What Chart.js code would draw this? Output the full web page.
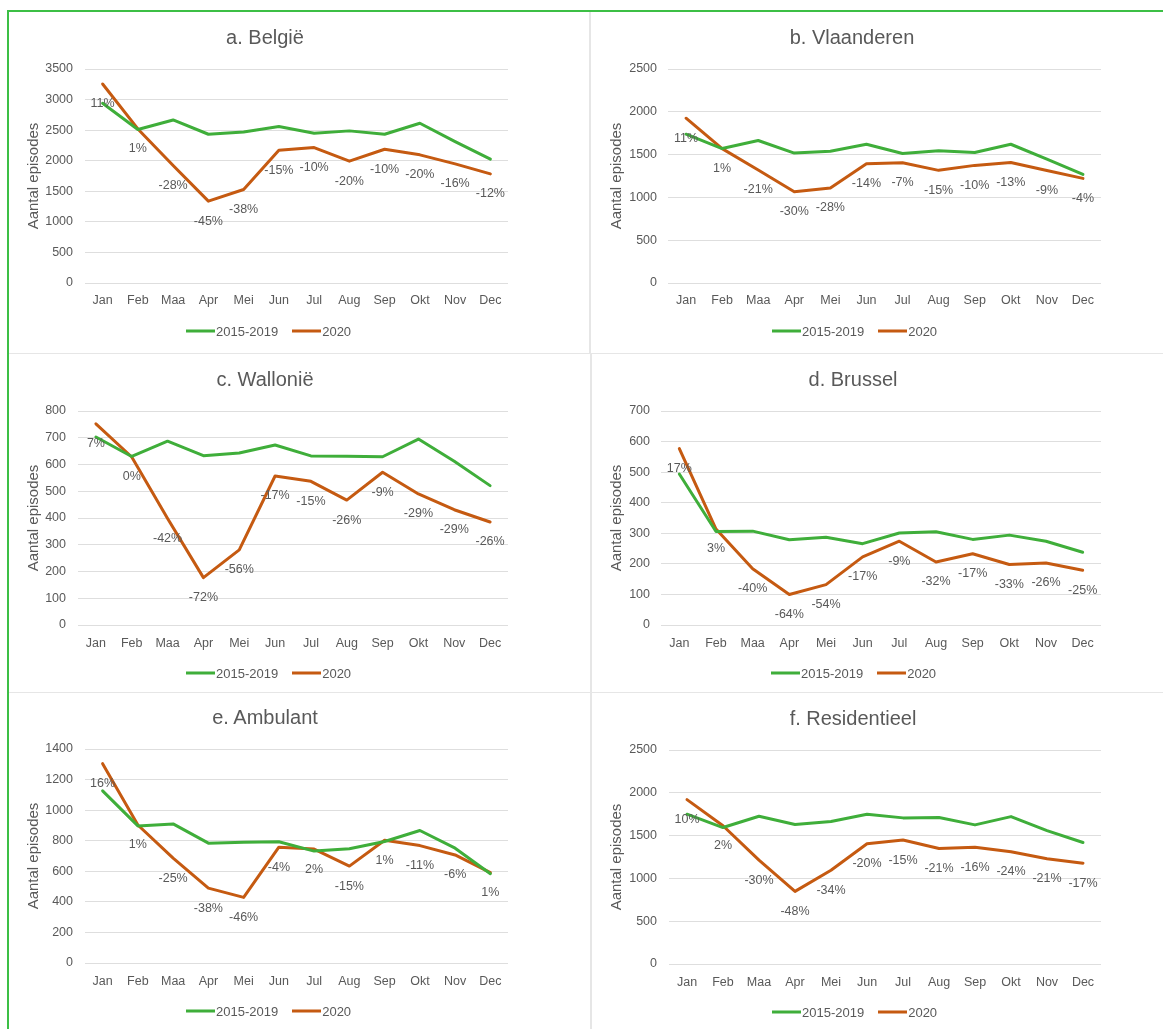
<!DOCTYPE html>
<html>
<head>
<meta charset="utf-8">
<script src="https://cdn.jsdelivr.net/npm/chart.js@4.4.0/dist/chart.umd.min.js"></script>
<style>
  body { margin: 0; background: #fff; font-family: "Liberation Sans", Arial, sans-serif; }
  #page { position: relative; width: 1163px; height: 1029px; overflow: hidden; }
  .panel { position: absolute; }
  .title { position: absolute; transform: translate(-50%, -50%); font-size: 20px; color: #595959; white-space: nowrap; line-height: 1; }
  .legend { position: absolute; display: flex; align-items: center; font-size: 13px; color: #595959; white-space: nowrap; transform: translateY(-50%); line-height: 1; }
  .legend .sw { display: inline-block; width: 29px; height: 3px; }
  .rule { position: absolute; }
</style>
</head>
<body>
<div id="page"></div>
<script>
// categories
const months = ['Jan', 'Feb', 'Maa', 'Apr', 'Mei', 'Jun', 'Jul', 'Aug', 'Sep', 'Okt', 'Nov', 'Dec'];
const seriesNames = ['2015-2019', '2020'];
const axisTitle = 'Aantal episodes';

// a. België
const belgieBase = [2940, 2510, 2667, 2433, 2471, 2558, 2449, 2488, 2433, 2613, 2313, 2025];
const belgie2020 = [3255, 2520, 1921, 1339, 1530, 2172, 2215, 1992, 2188, 2096, 1949, 1785];
const belgiePct = ['11%', '1%', '-28%', '-45%', '-38%', '-15%', '-10%', '-20%', '-10%', '-20%', '-16%', '-12%'];

// b. Vlaanderen
const vlaanderenBase = [1738, 1571, 1665, 1518, 1540, 1621, 1512, 1545, 1524, 1621, 1446, 1268];
const vlaanderen2020 = [1925, 1570, 1320, 1066, 1110, 1392, 1405, 1316, 1374, 1408, 1315, 1222];
const vlaanderenPct = ['11%', '1%', '-21%', '-30%', '-28%', '-14%', '-7%', '-15%', '-10%', '-13%', '-9%', '-4%'];

// c. Wallonië
const wallonieBase = [703, 630, 687, 633, 643, 673, 632, 631, 629, 695, 612, 521];
const wallonie2020 = [752, 628, 398, 177, 281, 557, 537, 467, 571, 490, 431, 385];
const walloniePct = ['7%', '0%', '-42%', '-72%', '-56%', '-17%', '-15%', '-26%', '-9%', '-29%', '-29%', '-26%'];

// d. Brussel
const brusselBase = [494, 306, 307, 279, 287, 266, 301, 305, 280, 294, 274, 238];
const brussel2020 = [577, 314, 184, 100, 132, 223, 274, 206, 233, 198, 203, 179];
const brusselPct = ['17%', '3%', '-40%', '-64%', '-54%', '-17%', '-9%', '-32%', '-17%', '-33%', '-26%', '-25%'];

// e. Ambulant
const ambulantBase = [1126, 897, 910, 784, 790, 793, 732, 747, 795, 867, 751, 584];
const ambulant2020 = [1304, 903, 686, 490, 429, 758, 745, 634, 803, 768, 707, 591];
const ambulantPct = ['16%', '1%', '-25%', '-38%', '-46%', '-4%', '2%', '-15%', '1%', '-11%', '-6%', '1%'];

// f. Residentieel
const residentieelBase = [1750, 1594, 1726, 1629, 1664, 1750, 1707, 1711, 1625, 1722, 1559, 1419];
const residentieel2020 = [1920, 1615, 1213, 848, 1095, 1404, 1448, 1350, 1365, 1312, 1230, 1178];
const residentieelPct = ['10%', '2%', '-30%', '-48%', '-34%', '-20%', '-15%', '-21%', '-16%', '-24%', '-21%', '-17%'];

const GREEN = '#3FAE3A';
const ORANGE = '#C55A11';
const TXT = '#595959';
const GRID = '#dedede';
const FONT = '"Liberation Sans", Arial, sans-serif';

// layout of the six panels (box = panel rect, plot = plot rect in page px)
const panels = [
  { title: 'a. België', base: belgieBase, cur: belgie2020, pct: belgiePct, max: 3500, step: 500,
    box: [8, 11, 581, 341], plot: [85, 69, 508, 283], tickRight: 73, axisX: 34, titleXY: [265, 37], catY: 300, legXY: [186, 331] },
  { title: 'b. Vlaanderen', base: vlaanderenBase, cur: vlaanderen2020, pct: vlaanderenPct, max: 2500, step: 500,
    box: [591, 11, 572, 341], plot: [668, 69, 1101, 283], tickRight: 657, axisX: 617, titleXY: [852, 37], catY: 300, legXY: [772, 331] },
  { title: 'c. Wallonië', base: wallonieBase, cur: wallonie2020, pct: walloniePct, max: 800, step: 100,
    box: [8, 354, 581, 337], plot: [78, 411, 508, 625], tickRight: 66, axisX: 34, titleXY: [265, 379], catY: 643, legXY: [186, 673] },
  { title: 'd. Brussel', base: brusselBase, cur: brussel2020, pct: brusselPct, max: 700, step: 100,
    box: [592, 354, 571, 337], plot: [661, 411, 1101, 625], tickRight: 650, axisX: 617, titleXY: [853, 379], catY: 643, legXY: [771, 673] },
  { title: 'e. Ambulant', base: ambulantBase, cur: ambulant2020, pct: ambulantPct, max: 1400, step: 200,
    box: [8, 693, 581, 336], plot: [85, 749, 508, 963], tickRight: 73, axisX: 34, titleXY: [265, 717], catY: 981, legXY: [186, 1011] },
  { title: 'f. Residentieel', base: residentieelBase, cur: residentieel2020, pct: residentieelPct, max: 2500, step: 500,
    box: [592, 693, 571, 336], plot: [669, 750, 1101, 964], tickRight: 657, axisX: 617, titleXY: [853, 718], catY: 982, legXY: [772, 1012] }
];

const page = document.getElementById('page');

function rule(x, y, w, h, color) {
  const d = document.createElement('div');
  d.className = 'rule';
  Object.assign(d.style, { left: x + 'px', top: y + 'px', width: w + 'px', height: h + 'px', background: color });
  page.appendChild(d);
}
rule(7, 10, 1156, 1.5, '#3CBF45');
rule(7, 10, 1.5, 1019, '#3CBF45');
rule(589, 11.5, 1.5, 342, '#e6e6e6');
rule(590, 353, 1.5, 676, '#e6e6e6');
rule(8.5, 352.5, 1155, 1.5, '#e6e6e6');
rule(8.5, 691.5, 1155, 1.5, '#e6e6e6');

// percentage labels under the 2020 points
const pctPlugin = {
  id: 'pctLabels',
  afterDatasetsDraw(chart, args, opts) {
    const meta = chart.getDatasetMeta(1);
    const ctx = chart.ctx;
    ctx.save();
    ctx.font = '12.5px ' + FONT;
    ctx.fillStyle = TXT;
    ctx.textAlign = 'center';
    ctx.textBaseline = 'middle';
    meta.data.forEach((pt, i) => ctx.fillText(opts.labels[i], pt.x, pt.y + 20));
    ctx.restore();
  }
};

function makePanel(p) {
  const [L, T, W, H] = p.box;
  const [pl, pt, pr, pb] = p.plot;
  const xH = 30;

  const div = document.createElement('div');
  div.className = 'panel';
  Object.assign(div.style, { left: L + 'px', top: T + 'px', width: W + 'px', height: H + 'px' });
  const canvas = document.createElement('canvas');
  div.appendChild(canvas);
  page.appendChild(div);

  const t = document.createElement('div');
  t.className = 'title';
  t.textContent = p.title;
  t.style.left = p.titleXY[0] + 'px';
  t.style.top = p.titleXY[1] + 'px';
  page.appendChild(t);

  const lg = document.createElement('div');
  lg.className = 'legend';
  lg.style.left = p.legXY[0] + 'px';
  lg.style.top = p.legXY[1] + 'px';
  lg.innerHTML =
    `<span class="sw" style="background:${GREEN}"></span><span style="margin-left:1px">${seriesNames[0]}</span>` +
    `<span class="sw" style="background:${ORANGE};margin-left:14px"></span><span style="margin-left:1px">${seriesNames[1]}</span>`;
  page.appendChild(lg);

  new Chart(canvas, {
    type: 'line',
    data: {
      labels: months,
      datasets: [
        { label: seriesNames[0], data: p.base, borderColor: GREEN, backgroundColor: GREEN, borderWidth: 3, pointRadius: 0, tension: 0, borderJoinStyle: 'round', borderCapStyle: 'round' },
        { label: seriesNames[1], data: p.cur, borderColor: ORANGE, backgroundColor: ORANGE, borderWidth: 3, pointRadius: 0, tension: 0, borderJoinStyle: 'round', borderCapStyle: 'round' }
      ]
    },
    options: {
      responsive: true, maintainAspectRatio: false, animation: false,
      layout: { padding: { left: 0, top: pt - T, right: L + W - pr, bottom: T + H - pb - xH } },
      plugins: { legend: { display: false }, title: { display: false }, tooltip: { enabled: false }, pctLabels: { labels: p.pct } },
      scales: {
        x: {
          offset: true,
          grid: { display: false, drawTicks: false },
          border: { display: false },
          ticks: { color: TXT, font: { family: FONT, size: 12.5 }, padding: p.catY - pb - 7, maxRotation: 0, autoSkip: false },
          afterFit: s => { s.height = xH; }
        },
        y: {
          min: 0, max: p.max,
          grid: { color: GRID, lineWidth: 1, drawTicks: false },
          border: { display: false },
          ticks: { stepSize: p.step, color: TXT, font: { family: FONT, size: 12.5 }, padding: pl - p.tickRight, callback: v => String(v) },
          title: { display: true, text: axisTitle, color: TXT, font: { family: FONT, size: 15 }, padding: { top: p.axisX - L - 9, bottom: 0 } },
          afterFit: s => { s.width = pl - L; }
        }
      }
    },
    plugins: [pctPlugin]
  });
}

panels.forEach(makePanel);
</script>
</body>
</html>
